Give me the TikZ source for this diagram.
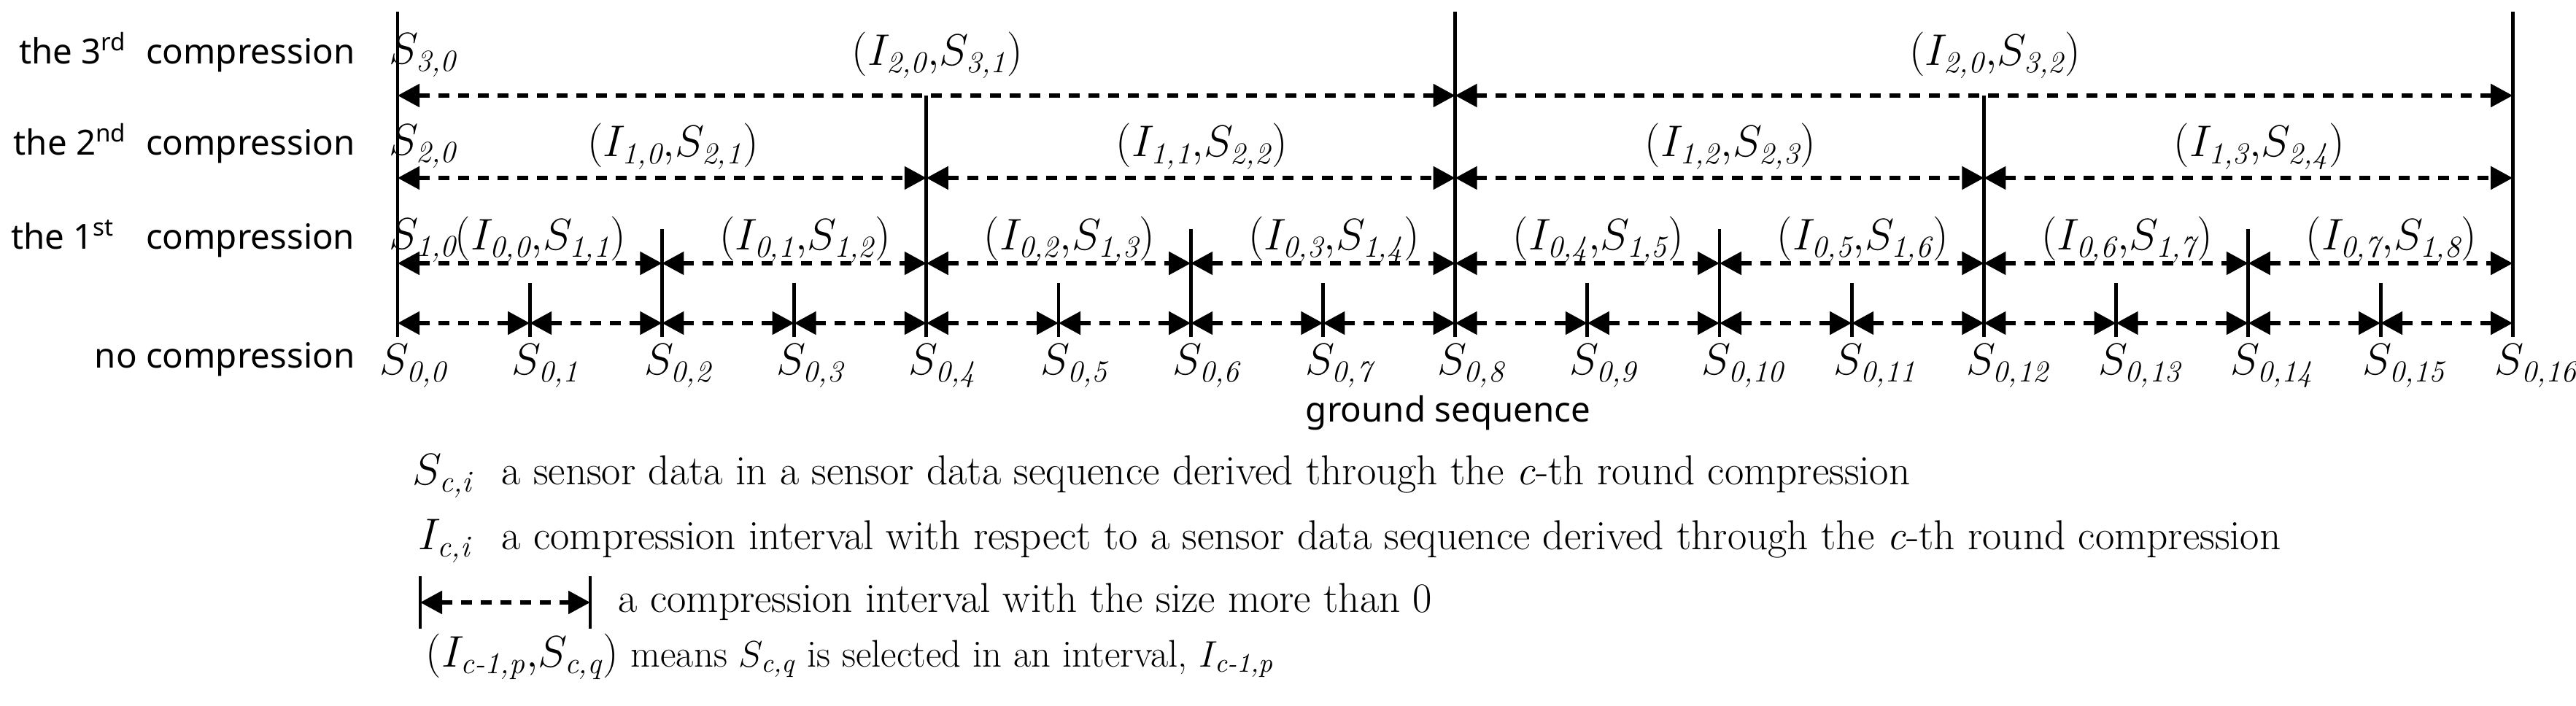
\documentclass[tikz,border=0pt]{standalone}
\usepackage{amsmath}
\usepackage{fontspec}
\newfontfamily\labelfont{Noto Sans}
\usetikzlibrary{arrows.meta, calc, positioning}
\tikzstyle{interval} = [<->, >={Triangle[length=3mm, width=3.1mm]},
	line width=1.5pt, dash pattern=on 1.5mm off 1.2mm]
\tikzstyle{bound} = [line width=1.4pt]
\tikzstyle{rowlabel} = [anchor=base east, inner sep=0pt,
	font=\labelfont\fontsize{13.5}{16}\selectfont]
\tikzstyle{seqlabel} = [inner sep=0pt, font=\fontsize{17}{20}\selectfont]
\tikzstyle{legendtext} = [anchor=base west, inner sep=0pt,
	font=\fontsize{16.3}{19}\selectfont]
\newcommand{\sd}[2]{S_{\text{\itshape #1,#2}}}
\newcommand{\ci}[2]{I_{\text{\itshape #1,#2}}}

\begin{document}
\begin{tikzpicture}
	% set up canvas
	\useasboundingbox (0,0) rectangle (35.31,9.67);

	% set up points on the four rows
	\foreach \k/\y in {0/5.24, 1/6.06, 2/7.23, 3/8.36} {
		\foreach \i in {0,...,16} {
			\coordinate (r\k-\i) at (5.45+1.812*\i, \y);
		}
	}

	% set up boundaries of the sensor data
	\foreach \i/\h in {0/9.51, 1/5.79, 2/6.53, 3/5.79, 4/8.36, 5/5.79, 6/6.53, 7/5.79,
		8/9.51, 9/5.79, 10/6.53, 11/5.79, 12/8.36, 13/5.79, 14/6.53, 15/5.79, 16/9.51} {
		\coordinate (top\i) at (5.45+1.812*\i, \h);
		\coordinate (bot\i) at (5.45+1.812*\i, 5.05);
		\draw [bound] (bot\i) -- (top\i);
	}

	% set up row names
	\node (row3) [rowlabel] at (4.87,8.79) {the 3\textsuperscript{rd}\hspace{0.55em}compression};
	\node (row2) [rowlabel] at (4.87,7.54) {the 2\textsuperscript{nd}\hspace{0.55em}compression};
	\node (row1) [rowlabel] at (4.87,6.25) {the 1\textsuperscript{st}\hspace{0.9em}compression};
	\node (row0) [rowlabel] at (4.87,4.62) {no compression};

	% set up intervals of the ground sequence
	\foreach \i [evaluate=\i as \j using int(\i+1)] in {0,...,15}
		\draw [interval] (r0-\i) -- (r0-\j);

	% set up intervals of the 1st compression
	\foreach \p [evaluate=\p as \a using int(2*\p), evaluate=\p as \b using int(2*\p+2),
		evaluate=\p as \q using int(\p+1)] in {0,...,7} {
		\draw [interval] (r1-\a) -- (r1-\b);
		\node (l1-\p) [seqlabel, anchor=base] at ($(r1-\a)!0.5!(r1-\b)+(0.15,0.18)$)
			{$(\ci{0}{\p}{,}\sd{1}{\q})$};
	}

	% set up intervals of the 2nd compression
	\foreach \p [evaluate=\p as \a using int(4*\p), evaluate=\p as \b using int(4*\p+4),
		evaluate=\p as \q using int(\p+1)] in {0,...,3} {
		\draw [interval] (r2-\a) -- (r2-\b);
		\node (l2-\p) [seqlabel, anchor=base] at ($(r2-\a)!0.5!(r2-\b)+(0.15,0.29)$)
			{$(\ci{1}{\p}{,}\sd{2}{\q})$};
	}

	% set up intervals of the 3rd compression
	\draw [interval] (r3-0) -- (r3-8);
	\draw [interval] (r3-8) -- (r3-16);
	\node (l3-0) [seqlabel, anchor=base] at ($(r3-0)!0.5!(r3-8)+(0.15,0.41)$) {$(\ci{2}{0}{,}\sd{3}{1})$};
	\node (l3-1) [seqlabel, anchor=base] at ($(r3-8)!0.5!(r3-16)+(0.15,0.41)$) {$(\ci{2}{0}{,}\sd{3}{2})$};

	% set up sensor data names
	\foreach \i in {0,...,16}
		\node (s\i) [seqlabel, anchor=base west] at ($(r0-\i)+(-0.25,-0.71)$) {$\sd{0}{\i}$};
	\foreach \k/\y in {1/6.25, 2/7.54, 3/8.79}
		\node (head\k) [seqlabel, anchor=base west] at (5.33,\y) {$\sd{\k}{0}$};
	\node (ground) [rowlabel, anchor=base] at (19.85,3.88) {ground sequence};

	% set up legend entries
	\node (symS) [legendtext, font=\fontsize{17}{20}\selectfont] at (5.65,3.02) {$\sd{c}{i}$};
	\node (txtS) [legendtext] at (6.87,3.02) {a sensor data in a sensor data sequence derived through the \textit{c}-th round compression};
	\node (symI) [legendtext, font=\fontsize{17}{20}\selectfont] at (5.73,2.13) {$\ci{c}{i}$};
	\node (txtI) [legendtext] at (6.87,2.13) {a compression interval with respect to a sensor data sequence derived through the \textit{c}-th round compression};
	\coordinate (leg-a) at (5.76,1.41);
	\coordinate (leg-b) at (8.09,1.41);
	\draw [bound] ($(leg-a)+(0,-0.36)$) -- ($(leg-a)+(0,0.36)$);
	\draw [bound] ($(leg-b)+(0,-0.36)$) -- ($(leg-b)+(0,0.36)$);
	\draw [interval] (leg-a) -- (leg-b);
	\node (txtA) [legendtext] at (8.47,1.28) {a compression interval with the size more than 0};
	\node (txtP) [legendtext] at (5.83,0.53) {{\fontsize{17}{20}\selectfont$(\ci{c-1}{p}{,}\sd{c}{q})$}
		{\fontsize{15}{18}\selectfont means $\sd{c}{q}$ is selected in an interval, $\ci{c-1}{p}$}};

\end{tikzpicture}
\end{document}
